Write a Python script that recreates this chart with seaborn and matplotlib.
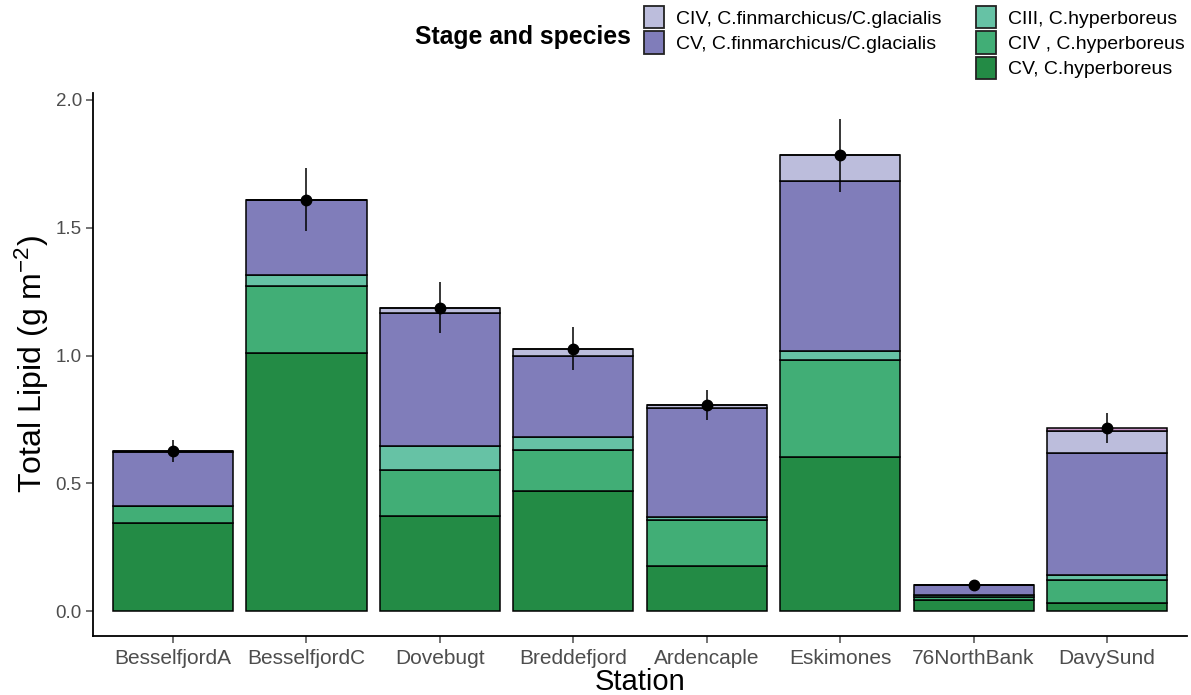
import numpy as np
import pandas as pd
import matplotlib
matplotlib.use("Agg")
import matplotlib.pyplot as plt
import seaborn as sns
from matplotlib.patches import Patch
from matplotlib.ticker import FormatStrFormatter

stations = ["BesselfjordA", "BesselfjordC", "Dovebugt", "Breddefjord",
            "Ardencaple", "Eskimones", "76NorthBank", "DavySund"]

# Lipid per stage/species group (g m-2), stacked bottom to top
cv_hyp = [0.346, 1.011, 0.373, 0.469, 0.178, 0.603, 0.043, 0.031]
civ_hyp = [0.064, 0.261, 0.181, 0.161, 0.178, 0.381, 0.012, 0.092]
ciii_hyp = [0.000, 0.043, 0.092, 0.051, 0.014, 0.033, 0.008, 0.018]
cv_fin = [0.213, 0.295, 0.519, 0.316, 0.425, 0.667, 0.041, 0.477]
civ_fin = [0.002, 0.000, 0.022, 0.029, 0.013, 0.099, 0.000, 0.087]
ciii_fin = [0.000, 0.000, 0.000, 0.000, 0.000, 0.000, 0.000, 0.013]

# Standard error of the station total
total_se = [0.043, 0.124, 0.100, 0.084, 0.059, 0.142, 0.008, 0.058]

group_labels = ["CIII, C.finmarchicus/C.glacialis",
                "CIV, C.finmarchicus/C.glacialis",
                "CV, C.finmarchicus/C.glacialis",
                "CIII, C.hyperboreus",
                "CIV , C.hyperboreus",
                "CV, C.hyperboreus"]
group_values = [ciii_fin, civ_fin, cv_fin, ciii_hyp, civ_hyp, cv_hyp]
group_colors = ["#C994C7", "#BCBDDC", "#807DBA", "#66C2A5", "#41AE76", "#238B45"]

rows = []
for label, vals in zip(group_labels, group_values):
    for st, v in zip(stations, vals):
        rows.append({"Station": st, "group": label, "lipid": v})
df = pd.DataFrame(rows)
totals = np.sum(np.array(group_values), axis=0)

sns.set_theme(style="ticks")
plt.rcParams["font.family"] = ["Liberation Sans", "DejaVu Sans"]
plt.rcParams["mathtext.fontset"] = "custom"
plt.rcParams["mathtext.rm"] = "Liberation Sans"
plt.rcParams["mathtext.it"] = "Liberation Sans:italic"
plt.rcParams["text.color"] = "black"

fig = plt.figure(figsize=(11.91, 6.95), dpi=100)
ax = fig.add_axes([93 / 1191, 59 / 695, (1187 - 93) / 1191, (636 - 93) / 695])

# First hue level ends up on top of the stack
sns.histplot(data=df, x="Station", weights="lipid", hue="group",
             hue_order=group_labels, palette=dict(zip(group_labels, group_colors)),
             multiple="stack", discrete=True, shrink=0.9, alpha=1,
             edgecolor="black", linewidth=1.1, legend=False, ax=ax)

ax.errorbar(stations, totals, yerr=total_se, fmt="o", color="black",
            ms=7.5, elinewidth=1.1, capsize=0, zorder=5)

ax.set_xlim(-0.6, len(stations) - 0.4)
ax.set_ylim(-0.0965, 2.0265)
ax.set_yticks([0.0, 0.5, 1.0, 1.5, 2.0])
ax.yaxis.set_major_formatter(FormatStrFormatter("%.1f"))
ax.set_xlabel("Station", fontsize=21, color="black", labelpad=0)
ax.set_ylabel("Total Lipid (g m$^{-2}$)", fontsize=23, color="black", labelpad=3)
ax.tick_params(axis="x", labelsize=15, colors="#4D4D4D", length=5, width=1.1, pad=4)
ax.tick_params(axis="y", labelsize=13.5, colors="#4D4D4D", length=5, width=1.1, pad=3)
for lab in ax.get_xticklabels() + ax.get_yticklabels():
    lab.set_color("#4D4D4D")
sns.despine(ax=ax)
for s in ("left", "bottom"):
    ax.spines[s].set_color("black")
    ax.spines[s].set_linewidth(1.3)

# Legend: title on the left, keys in two columns
fig.text(415 / 1191, 1 - 37 / 695, "Stage and species", fontsize=17.8,
         fontweight="bold", va="center", ha="left", color="black")
legend_idx = [1, 2, 3, 4, 5]
handles = [Patch(facecolor=group_colors[i], edgecolor="#222222", linewidth=1.3)
           for i in legend_idx]
labels = [group_labels[i] for i in legend_idx]
handles.insert(2, Patch(facecolor="none", edgecolor="none"))
labels.insert(2, "")
leg = fig.legend(handles, labels, ncol=2, loc="upper left",
                 bbox_to_anchor=(640 / 1191, 1 - 2 / 695), frameon=False,
                 fontsize=14, handlelength=1.05, handleheight=1.4,
                 handletextpad=0.6, labelspacing=0.15, columnspacing=1.75,
                 borderaxespad=0, borderpad=0.2)
for t in leg.get_texts():
    t.set_color("black")

fig.savefig("out.png", dpi=100)
